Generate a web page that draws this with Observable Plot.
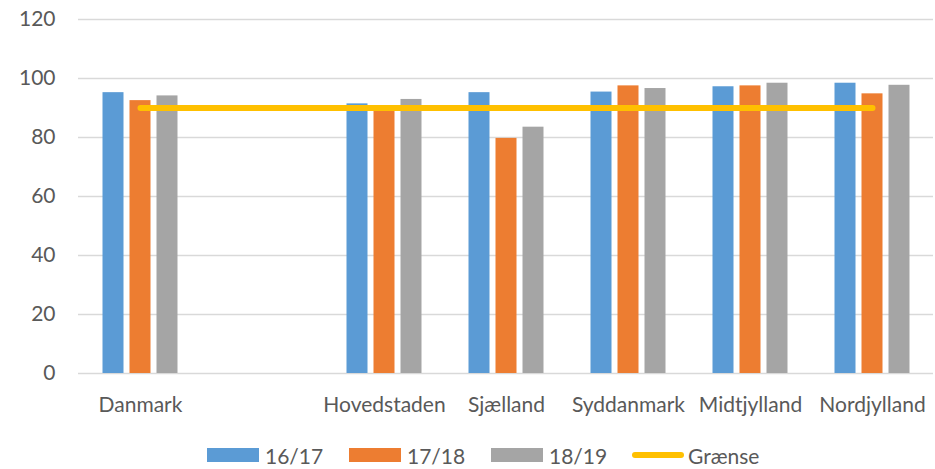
<!DOCTYPE html>
<html>
<head>
<meta charset="utf-8">
<script src="https://cdn.jsdelivr.net/npm/d3@7"></script>
<script src="https://cdn.jsdelivr.net/npm/@observablehq/plot@0.6"></script>
<style>
  html, body { margin: 0; padding: 0; background: #fff; }
  body { width: 935px; height: 469px; overflow: hidden; font-family: Lato, "Open Sans", sans-serif; }
  #legend { position: relative; height: 39px; font-family: Lato, sans-serif; font-size: 21px; color: #595959; }
  .item { position: absolute; top: 12px; display: flex; align-items: center; height: 26px; }
  .sw { width: 52px; height: 14px; margin-right: 6px; }
  .ln { width: 52px; height: 6px; border-radius: 3px; margin-right: 4px; }
</style>
</head>
<body>
<div id="chart"></div>
<div id="legend"></div>
<script>
const regions = ["Danmark", " ", "Hovedstaden", "Sjælland", "Syddanmark", "Midtjylland", "Nordjylland"];
const s1617 = [95.2, null, 91.4, 95.2, 95.4, 97.2, 98.4];
const s1718 = [92.5, null, 90.0, 79.7, 97.5, 97.5, 94.8];
const s1819 = [94.1, null, 92.9, 83.5, 96.6, 98.4, 97.7];
const graense = [90, 90, 90, 90, 90, 90, 90];
const seriesNames = ["16/17", "17/18", "18/19", "Grænse"];
const colors = ["#5b9bd5", "#ed7d31", "#a5a5a5", "#ffc000"];
const yTicks = [0, 20, 40, 60, 80, 100, 120];

const rows = regions.map((r, i) => ({region: r, a: s1617[i], b: s1718[i], c: s1819[i], g: graense[i]}));
const barRows = rows.filter(d => d.a != null);

const inset = 50.5;
const chart = Plot.plot({
  width: 935,
  height: 430,
  marginTop: 19,
  marginBottom: 57,
  marginLeft: 78,
  marginRight: 2,
  style: {fontFamily: "Lato, sans-serif", fontSize: "21px", color: "#595959", background: "#fff"},
  x: {domain: regions, padding: 0, label: null, tickSize: 0, tickPadding: 24},
  y: {domain: [0, 120], ticks: yTicks, label: null, tickSize: 0, tickPadding: 23},
  marks: [
    Plot.gridY(yTicks, {stroke: "#d9d9d9", strokeOpacity: 1, strokeWidth: 1.3}),
    Plot.barY(barRows, {x: "region", y: "a", fill: colors[0], insetLeft: inset, insetRight: inset, dx: -27}),
    Plot.barY(barRows, {x: "region", y: "b", fill: colors[1], insetLeft: inset, insetRight: inset}),
    Plot.barY(barRows, {x: "region", y: "c", fill: colors[2], insetLeft: inset, insetRight: inset, dx: 27}),
    Plot.lineY(rows, {x: "region", y: "g", stroke: colors[3], strokeWidth: 6, strokeLinecap: "round"})
  ]
});
document.getElementById("chart").appendChild(chart);

const legend = document.getElementById("legend");
const lefts = [207, 349, 491, 632];
seriesNames.forEach((name, i) => {
  const it = document.createElement("div");
  it.className = "item";
  it.style.left = lefts[i] + "px";
  const sw = document.createElement("div");
  sw.className = i === 3 ? "ln" : "sw";
  sw.style.background = colors[i];
  const tx = document.createElement("span");
  tx.textContent = name;
  it.appendChild(sw);
  it.appendChild(tx);
  legend.appendChild(it);
});
</script>
</body>
</html>
